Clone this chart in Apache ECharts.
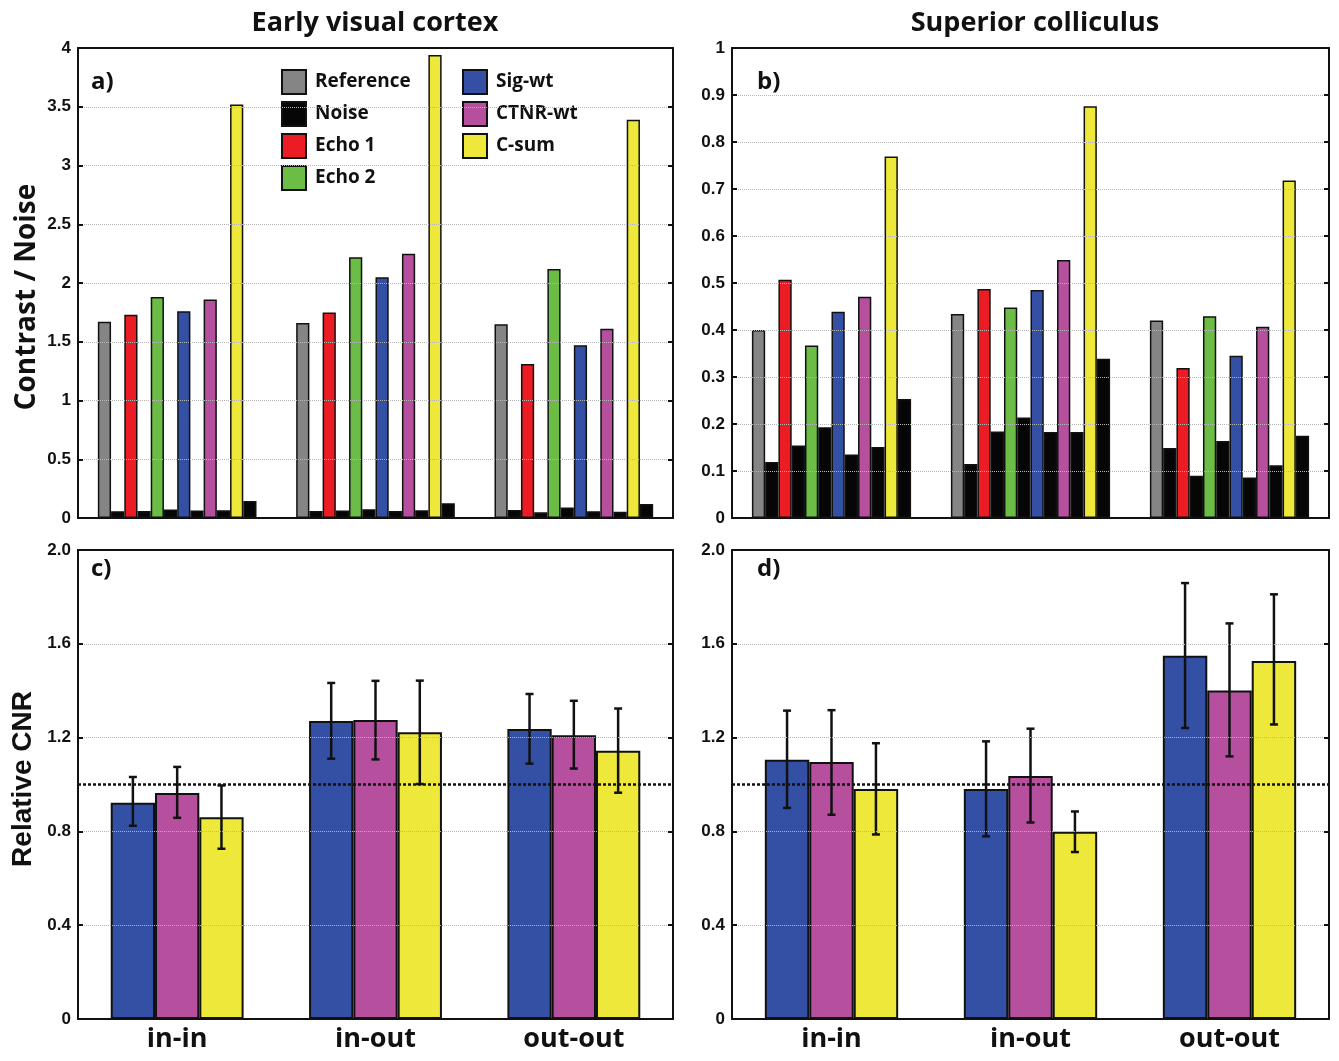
<!DOCTYPE html>
<html>
<head>
<meta charset="utf-8">
<title>Contrast / Noise and relative CNR</title>
<script src="https://cdn.jsdelivr.net/npm/echarts@6/dist/echarts.min.js"></script>
<style>
  html, body { margin: 0; padding: 0; background: #fff; }
  #chart { width: 1339px; height: 1061px; }
</style>
</head>
<body>
<div id="chart"></div>
<script>
// categories
const groups = ['in-in', 'in-out', 'out-out']
const methods = ['Reference', 'Echo 1', 'Echo 2', 'Sig-wt', 'CTNR-wt', 'C-sum']
const weighted = ['Sig-wt', 'CTNR-wt', 'C-sum']

// a) early visual cortex, contrast / noise (one row per method, one value per group)
const evcContrast = [
  [1.67, 1.66, 1.65],
  [1.73, 1.75, 1.31],
  [1.88, 2.22, 2.12],
  [1.76, 2.05, 1.47],
  [1.86, 2.25, 1.61],
  [3.52, 3.94, 3.39]
]
const evcNoise = [
  [0.058, 0.060, 0.068],
  [0.060, 0.063, 0.048],
  [0.072, 0.075, 0.090],
  [0.063, 0.060, 0.058],
  [0.065, 0.066, 0.053],
  [0.145, 0.126, 0.120]
]

// b) superior colliculus
const scContrast = [
  [0.400, 0.434, 0.420],
  [0.507, 0.487, 0.319],
  [0.367, 0.448, 0.429],
  [0.439, 0.485, 0.345],
  [0.471, 0.549, 0.407],
  [0.769, 0.876, 0.718]
]
const scNoise = [
  [0.119, 0.115, 0.149],
  [0.154, 0.184, 0.090],
  [0.193, 0.214, 0.164],
  [0.135, 0.183, 0.086],
  [0.151, 0.183, 0.112],
  [0.253, 0.339, 0.175]
]

// c) relative CNR, early visual cortex (rows: Sig-wt, CTNR-wt, C-sum)
const evcRelCnr = [
  [0.922, 1.271, 1.237],
  [0.964, 1.275, 1.210],
  [0.860, 1.223, 1.144]
]
const evcRelLow = [
  [0.824, 1.110, 1.089],
  [0.858, 1.107, 1.068],
  [0.726, 1.002, 0.965]
]
const evcRelHigh = [
  [1.032, 1.433, 1.386],
  [1.075, 1.442, 1.357],
  [0.996, 1.443, 1.324]
]

// d) relative CNR, superior colliculus
const scRelCnr = [
  [1.106, 0.981, 1.549],
  [1.096, 1.036, 1.401],
  [0.981, 0.799, 1.527]
]
const scRelLow = [
  [0.900, 0.779, 1.241],
  [0.871, 0.838, 1.120],
  [0.787, 0.712, 1.256]
]
const scRelHigh = [
  [1.315, 1.184, 1.859],
  [1.317, 1.238, 1.687],
  [1.176, 0.885, 1.811]
]

const colors = {
  'Reference': '#858585',
  'Noise': '#060606',
  'Echo 1': '#ec1c24',
  'Echo 2': '#6cbd45',
  'Sig-wt': '#3450a4',
  'CTNR-wt': '#b54f9e',
  'C-sum': '#ede83a'
}

const ink = '#111'
const tickFont = 'Liberation Sans'
const textFont = 'Open Sans'
const bottomGap = 0.33

const grids = [
  { left: 78, top: 48, width: 595, height: 470 },
  { left: 732, top: 48, width: 597, height: 470 },
  { left: 78, top: 550, width: 595, height: 469 },
  { left: 732, top: 550, width: 597, height: 469 }
]

const xAxes = []
const yAxes = []
grids.forEach((g, i) => {
  // bottom + top category axes (top one carries the inward ticks)
  xAxes.push({
    type: 'category',
    gridIndex: i,
    data: groups,
    position: 'bottom',
    axisLine: { onZero: false, lineStyle: { color: ink, width: 2 } },
    axisTick: { show: false },
    axisLabel: {
      show: i >= 2,
      fontFamily: textFont,
      fontWeight: 'bold',
      fontSize: 27,
      color: ink,
      margin: 7
    },
    z: 6
  })
  xAxes.push({
    type: 'category',
    gridIndex: i,
    data: groups,
    position: 'top',
    axisLine: { onZero: false, lineStyle: { color: ink, width: 2 } },
    axisTick: { inside: true, alignWithLabel: true, length: 5, lineStyle: { color: ink, width: 2 } },
    axisLabel: { show: false },
    z: 6
  })
})

const yRanges = [
  { max: 4, interval: 0.5 },
  { max: 1, interval: 0.1 },
  { max: 2, interval: 0.4 },
  { max: 2, interval: 0.4 }
]
yRanges.forEach((r, i) => {
  yAxes.push({
    type: 'value',
    gridIndex: i,
    position: 'left',
    min: 0,
    max: r.max,
    interval: r.interval,
    axisLine: { show: true, onZero: false, lineStyle: { color: ink, width: 2 } },
    axisTick: { show: true, inside: true, length: 5, lineStyle: { color: ink, width: 2 } },
    axisLabel: {
      fontFamily: tickFont,
      fontWeight: 'bold',
      fontSize: 17,
      color: ink,
      margin: 7,
      formatter: v => (i >= 2 && v !== 0 ? v.toFixed(1) : String(v))
    },
    splitLine: { show: true, lineStyle: { type: 'dotted', color: '#b5b5b5', width: 1 } },
    z: 6
  })
  yAxes.push({
    type: 'value',
    gridIndex: i,
    position: 'right',
    min: 0,
    max: r.max,
    interval: r.interval,
    axisLine: { show: true, onZero: false, lineStyle: { color: ink, width: 2 } },
    axisTick: { show: true, inside: true, length: 5, lineStyle: { color: ink, width: 2 } },
    axisLabel: { show: false },
    splitLine: { show: false },
    z: 6
  })
})

const series = []

// top panels: each method bar followed by its noise bar
function contrastPanel(i, contrast, noise) {
  methods.forEach((m, k) => {
    series.push({
      name: m,
      type: 'bar',
      xAxisIndex: 2 * i,
      yAxisIndex: 2 * i,
      data: contrast[k],
      barGap: '0%',
      barCategoryGap: '20%',
      itemStyle: { color: colors[m], borderColor: ink, borderWidth: 1.5 }
    })
    series.push({
      name: 'Noise',
      type: 'bar',
      xAxisIndex: 2 * i,
      yAxisIndex: 2 * i,
      data: noise[k],
      barGap: '0%',
      barCategoryGap: '20%',
      itemStyle: { color: colors['Noise'], borderColor: ink, borderWidth: 1.5 }
    })
  })
}

// bottom panels: three bars per group with error bars
function relativePanel(i, values, low, high) {
  weighted.forEach((m, k) => {
    series.push({
      name: m,
      type: 'bar',
      xAxisIndex: 2 * i,
      yAxisIndex: 2 * i,
      data: values[k],
      barGap: '0%',
      barCategoryGap: bottomGap * 100 + '%',
      itemStyle: { color: colors[m], borderColor: ink, borderWidth: 2 }
    })
  })
  weighted.forEach((m, k) => {
    const s = {
      type: 'custom',
      xAxisIndex: 2 * i,
      yAxisIndex: 2 * i,
      z: 4,
      silent: true,
      encode: { x: 0, y: [1, 2] },
      data: groups.map((g, j) => [j, low[k][j], high[k][j]]),
      renderItem: (params, api) => {
        const band = api.size([1, 0])[0]
        const barW = band * (1 - bottomGap) / 3
        const x = api.coord([api.value(0), 0])[0] + (k - 1) * barW
        const yLow = api.coord([api.value(0), api.value(1)])[1]
        const yHigh = api.coord([api.value(0), api.value(2)])[1]
        const cap = 4
        const st = { stroke: ink, lineWidth: 2.5 }
        return {
          type: 'group',
          children: [
            { type: 'line', shape: { x1: x, y1: yLow, x2: x, y2: yHigh }, style: st },
            { type: 'line', shape: { x1: x - cap, y1: yHigh, x2: x + cap, y2: yHigh }, style: st },
            { type: 'line', shape: { x1: x - cap, y1: yLow, x2: x + cap, y2: yLow }, style: st }
          ]
        }
      }
    }
    if (k === 2) {
      // reference level 1.0
      s.markLine = {
        silent: true,
        symbol: ['none', 'none'],
        label: { show: false },
        lineStyle: { type: [3, 2], color: ink, width: 2.5 },
        data: [{ yAxis: 1 }]
      }
    }
    series.push(s)
  })
}

contrastPanel(0, evcContrast, evcNoise)
contrastPanel(1, scContrast, scNoise)
relativePanel(2, evcRelCnr, evcRelLow, evcRelHigh)
relativePanel(3, scRelCnr, scRelLow, scRelHigh)

function label(text, x, y, size, align) {
  return {
    type: 'text',
    x: x,
    y: y,
    z: 10,
    style: {
      text: text,
      font: 'bold ' + size + 'px "' + textFont + '"',
      fill: ink,
      align: align || 'left',
      verticalAlign: 'middle'
    }
  }
}

const legendText = {
  fontFamily: textFont,
  fontWeight: 'bold',
  fontSize: 19,
  color: ink,
  padding: [0, 0, 0, 4]
}

const option = {
  animation: false,
  backgroundColor: '#fff',
  grid: grids,
  xAxis: xAxes,
  yAxis: yAxes,
  legend: [
    {
      data: ['Reference', 'Noise', 'Echo 1', 'Echo 2'],
      orient: 'vertical',
      left: 281,
      top: 69,
      padding: 0,
      itemWidth: 24,
      itemHeight: 24,
      itemGap: 6,
      icon: 'rect',
      selectedMode: false,
      textStyle: legendText
    },
    {
      data: ['Sig-wt', 'CTNR-wt', 'C-sum'],
      orient: 'vertical',
      left: 462,
      top: 69,
      padding: 0,
      itemWidth: 24,
      itemHeight: 24,
      itemGap: 6,
      icon: 'rect',
      selectedMode: false,
      textStyle: legendText
    }
  ],
  graphic: [
    label('Early visual cortex', 375, 23, 27, 'center'),
    label('Superior colliculus', 1035, 23, 27, 'center'),
    label('a)', 91, 82, 24),
    label('b)', 757, 82, 24),
    label('c)', 91, 569, 24),
    label('d)', 757, 569, 24),
    {
      type: 'text',
      x: 27,
      y: 297,
      rotation: Math.PI / 2,
      style: { text: 'Contrast / Noise', font: 'bold 28px "' + textFont + '"', fill: ink, align: 'center', verticalAlign: 'middle' }
    },
    {
      type: 'text',
      x: 23,
      y: 779,
      rotation: Math.PI / 2,
      style: { text: 'Relative CNR', font: 'bold 28px "' + tickFont + '"', fill: ink, align: 'center', verticalAlign: 'middle' }
    }
  ],
  series: series
}

const myChart = echarts.init(document.getElementById('chart'))
myChart.setOption(option)
</script>
</body>
</html>
